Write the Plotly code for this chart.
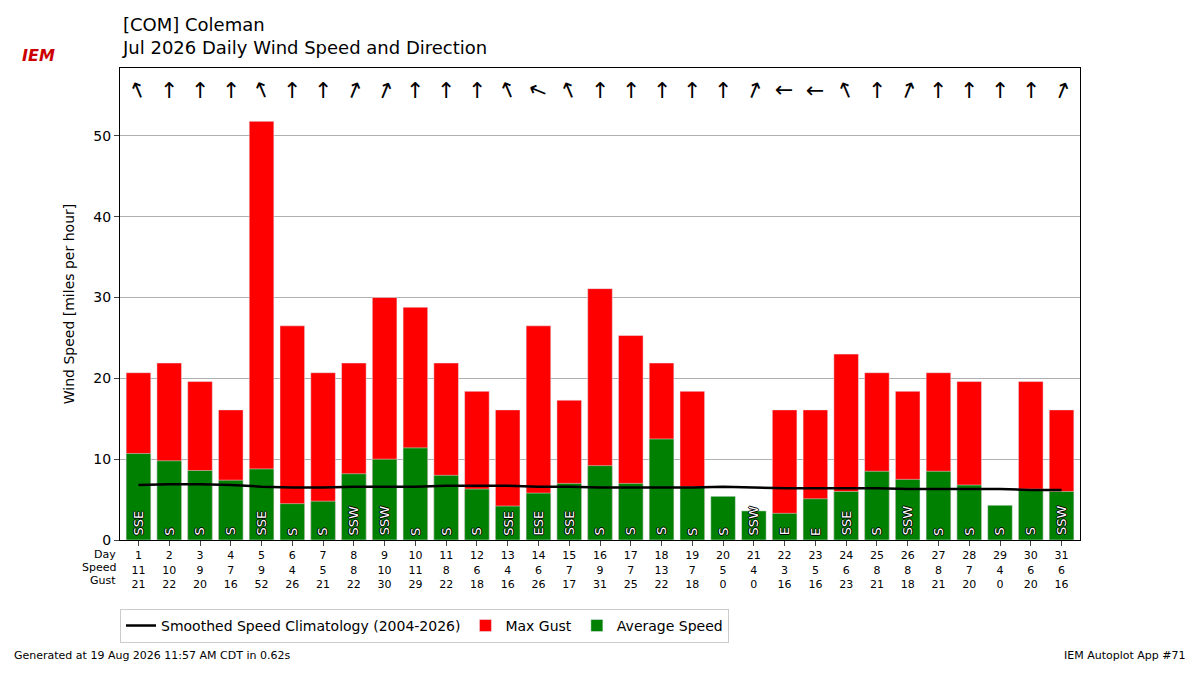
import plotly.graph_objects as go

# Daily data, Jul 2026, Coleman
days = list(range(1, 32))
avg_speed = [10.7, 9.8, 8.6, 7.4, 8.8, 4.5, 4.8, 8.2, 10.0, 11.4, 8.0, 6.3, 4.2, 5.8, 7.0, 9.2,
             7.0, 12.5, 6.6, 5.4, 3.6, 3.3, 5.1, 6.0, 8.5, 7.5, 8.5, 6.8, 4.3, 6.3, 6.0]
max_gust = [20.7, 21.9, 19.6, 16.1, 51.8, 26.5, 20.7, 21.9, 30.0, 28.8, 21.9, 18.4, 16.1, 26.5, 17.3, 31.1,
            25.3, 21.9, 18.4, 0, 0, 16.1, 16.1, 23.0, 20.7, 18.4, 20.7, 19.6, 0, 19.6, 16.1]
speed_lbl = [11, 10, 9, 7, 9, 4, 5, 8, 10, 11, 8, 6, 4, 6, 7, 9, 7, 13, 7, 5, 4, 3, 5, 6, 8, 8, 8, 7, 4, 6, 6]
gust_lbl = [21, 22, 20, 16, 52, 26, 21, 22, 30, 29, 22, 18, 16, 26, 17, 31, 25, 22, 18, 0, 0, 16, 16, 23,
            21, 18, 21, 20, 0, 20, 16]
direction = ["SSE", "S", "S", "S", "SSE", "S", "S", "SSW", "SSW", "S", "S", "S", "SSE", "ESE", "SSE", "S",
             "S", "S", "S", "S", "SSW", "E", "E", "SSE", "S", "SSW", "S", "S", "S", "S", "SSW"]
climo = [6.8, 6.9, 6.9, 6.8, 6.6, 6.5, 6.5, 6.6, 6.6, 6.6, 6.7, 6.7, 6.7, 6.6, 6.6, 6.5,
         6.5, 6.5, 6.5, 6.6, 6.5, 6.4, 6.4, 6.4, 6.4, 6.3, 6.3, 6.3, 6.3, 6.2, 6.2]

compass = {"N": 0, "NNE": 22.5, "NE": 45, "ENE": 67.5, "E": 90, "ESE": 112.5, "SE": 135, "SSE": 157.5,
           "S": 180, "SSW": 202.5, "SW": 225, "WSW": 247.5, "W": 270, "WNW": 292.5, "NW": 315, "NNW": 337.5}

fig = go.Figure()
fig.add_trace(go.Scatter(x=days, y=climo, mode="lines", line=dict(color="black", width=2.5),
                         name="Smoothed Speed Climatology (2004-2026)"))
fig.add_trace(go.Bar(x=days, y=max_gust, marker_color="#ff0000", name="Max Gust", width=0.8))
fig.add_trace(go.Bar(x=days, y=avg_speed, marker_color="#008000", name="Average Speed", width=0.8))

for d, dr in zip(days, direction):
    # arrow shows where the wind blows to
    ang = compass[dr] - 180
    fig.add_annotation(x=d, y=55.6, text="↑", showarrow=False, textangle=ang,
                       font=dict(size=22, color="black"))
    fig.add_annotation(x=d, y=0.3, text=dr, showarrow=False, textangle=-90, yanchor="bottom",
                       font=dict(size=13, color="white",
                                 shadow="1px 0 0 black, -1px 0 0 black, 0 1px 0 black, 0 -1px 0 black"))

tick_text = [f"{d}<br>{s}<br>{g}" for d, s, g in zip(days, speed_lbl, gust_lbl)]
for i, lab in enumerate(["Day", "Speed", "Gust"]):
    fig.add_annotation(xref="paper", yref="paper", x=0, y=-0.012 - i * 0.028, text=lab, showarrow=False,
                       xanchor="right", yanchor="top", xshift=-2, font=dict(size=11, color="black"))

fig.add_annotation(xref="paper", yref="paper", x=0, y=1.017, text="[COM] Coleman<br>Jul 2026 Daily Wind Speed and Direction",
                   showarrow=False, xanchor="left", yanchor="bottom", align="left", font=dict(size=18, color="black"))
fig.add_annotation(xref="paper", yref="paper", x=-0.104, y=1.05, text="<b><i>IEM</i></b>", showarrow=False,
                   xanchor="left", font=dict(size=16, color="#cc0000"))
fig.add_annotation(xref="paper", yref="paper", x=-0.1125, y=-0.263, text="Generated at 19 Aug 2026 11:57 AM CDT in 0.62s",
                   showarrow=False, xanchor="left", font=dict(size=11, color="black"))
fig.add_annotation(xref="paper", yref="paper", x=1.1125, y=-0.263, text="IEM Autoplot App #71",
                   showarrow=False, xanchor="right", font=dict(size=11, color="black"))

fig.update_layout(
    width=1200, height=675, barmode="overlay", plot_bgcolor="white", paper_bgcolor="white",
    margin=dict(l=112, r=128, t=60, b=143),
    font=dict(family="DejaVu Sans", color="black"),
    showlegend=True,
    legend=dict(orientation="h", x=0, y=-0.146, xanchor="left", yanchor="top",
                bordercolor="#cccccc", borderwidth=1, font=dict(size=14)),
    xaxis=dict(range=[0.4, 31.6], tickvals=days, ticktext=tick_text, tickfont=dict(size=11),
               showline=True, linecolor="black", mirror=True, ticks="outside", showgrid=False),
    yaxis=dict(range=[0, 58.4], tickvals=[0, 10, 20, 30, 40, 50], title=dict(text="Wind Speed [miles per hour]", font=dict(size=14)),
               showline=True, linecolor="black", mirror=True, ticks="outside", tickfont=dict(size=14),
               gridcolor="#b0b0b0", zeroline=False),
)
fig.write_html("out.html")
